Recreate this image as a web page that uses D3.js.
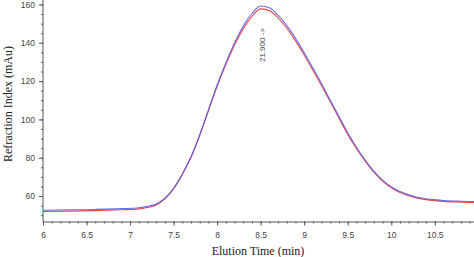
<!DOCTYPE html>
<html>
<head>
<meta charset="utf-8">
<script src="https://cdn.jsdelivr.net/npm/d3@7"></script>
<style>
  body { margin: 0; background: #fff; }
  svg { display: block; }
</style>
</head>
<body>
<div id="chart"></div>
<script>
const dims = { width: 474, height: 257 };

// elution times (min)
const times = [6.0, 6.3, 6.6, 6.9, 7.1, 7.2, 7.3, 7.4, 7.5, 7.6, 7.7, 7.8, 7.9, 8.0, 8.1, 8.2, 8.3, 8.4, 8.5,
    8.6, 8.7, 8.8, 8.9, 9.0, 9.1, 9.2, 9.3, 9.4, 9.5, 9.6, 9.7, 9.8, 9.9, 10.0, 10.1, 10.2, 10.3, 10.4, 10.5,
    10.6, 10.8, 10.95];

// refraction index readings (mAu)
const blueValues = [52.6, 52.8, 53.0, 53.4, 53.9, 54.6, 55.9, 58.9, 64.0, 71.5, 80.5, 92.0, 105.0, 118.0, 129.5,
    140.0, 148.8, 155.3, 159.2, 158.3, 154.5, 149.0, 142.3, 134.8, 126.8, 118.6, 110.0, 101.5, 93.0, 85.5,
    78.8, 73.0, 68.3, 64.8, 62.3, 60.6, 59.4, 58.6, 58.1, 57.7, 57.3, 57.1];

const redValues = [51.9, 52.1, 52.4, 52.8, 53.3, 54.0, 55.3, 58.5, 63.8, 71.3, 80.2, 91.6, 104.5, 117.3, 128.6,
    138.8, 147.4, 153.8, 157.7, 156.8, 153.0, 147.6, 141.0, 133.6, 125.7, 117.6, 109.2, 100.6, 92.2, 84.8,
    78.2, 72.5, 67.8, 64.3, 61.8, 60.1, 58.9, 58.1, 57.6, 57.2, 56.8, 56.6];

const xTicks = [6, 6.5, 7, 7.5, 8, 8.5, 9, 9.5, 10, 10.5];
const yTicks = [60, 80, 100, 120, 140, 160];

const svg = d3.select('#chart')
    .append('svg')
    .attr('width', dims.width)
    .attr('height', dims.height);

const x = d3.scaleLinear().domain([6, 10.95]).range([43, 474]);
const y = d3.scaleLinear().domain([46.7, 160]).range([221.5, 4.5]);

const tickFont = '"Liberation Sans", Arial, sans-serif';
const axisColor = '#555';

// minor ticks
const xMinor = d3.range(6, 10.95, 0.1).map(d => +d.toFixed(1));
const yMinor = d3.range(50, 161, 5);

svg.append('g')
    .attr('transform', `translate(0,${y.range()[0]})`)
    .call(d3.axisBottom(x).tickValues(xMinor).tickSize(2).tickFormat(''))
    .call(g => g.select('.domain').remove())
    .selectAll('line').attr('stroke', axisColor);

svg.append('g')
    .attr('transform', `translate(${x.range()[0]},0)`)
    .call(d3.axisLeft(y).tickValues(yMinor).tickSize(2).tickFormat(''))
    .call(g => g.select('.domain').remove())
    .selectAll('line').attr('stroke', axisColor);

// major axes
const xAxis = svg.append('g')
    .attr('transform', `translate(0,${y.range()[0]})`)
    .call(d3.axisBottom(x).tickValues(xTicks).tickSize(4).tickSizeOuter(0).tickPadding(6).tickFormat(d3.format('')));

const yAxis = svg.append('g')
    .attr('transform', `translate(${x.range()[0]},0)`)
    .call(d3.axisLeft(y).tickValues(yTicks).tickSize(4).tickSizeOuter(0).tickPadding(4));

// stretch y axis line to top of picture
yAxis.select('.domain').attr('d', `M0,${y.range()[0]}V0`);

[xAxis, yAxis].forEach(g => {
    g.select('.domain').attr('stroke', axisColor);
    g.selectAll('line').attr('stroke', axisColor);
    g.selectAll('text')
        .attr('fill', '#444')
        .style('font-family', tickFont)
        .style('font-size', '8.5px');
});

// traces
const line = values => d3.line()
    .x((d, i) => x(times[i]))
    .y(d => y(d))
    .curve(d3.curveMonotoneX)(values);

svg.append('path')
    .attr('d', line(redValues))
    .attr('fill', 'none')
    .attr('stroke', '#f04848')
    .attr('stroke-width', 1.1);

svg.append('path')
    .attr('d', line(blueValues))
    .attr('fill', 'none')
    .attr('stroke', '#4a55f0')
    .attr('stroke-width', 1.1)
    .attr('opacity', 0.85);

// peak annotation
svg.append('text')
    .attr('transform', `translate(${x(8.52) + 3},45) rotate(-90)`)
    .attr('text-anchor', 'middle')
    .attr('fill', '#444')
    .style('font-family', tickFont)
    .style('font-size', '8px')
    .text('21.900 ->');

// axis titles
svg.append('text')
    .attr('x', 258)
    .attr('y', 255)
    .attr('text-anchor', 'middle')
    .attr('fill', '#222')
    .style('font-family', '"Liberation Serif", "Times New Roman", serif')
    .style('font-size', '12px')
    .text('Elution Time (min)');

svg.append('text')
    .attr('transform', 'translate(12,104) rotate(-90)')
    .attr('text-anchor', 'middle')
    .attr('fill', '#222')
    .style('font-family', '"Liberation Serif", "Times New Roman", serif')
    .style('font-size', '12px')
    .text('Refraction Index (mAu)');
</script>
</body>
</html>
